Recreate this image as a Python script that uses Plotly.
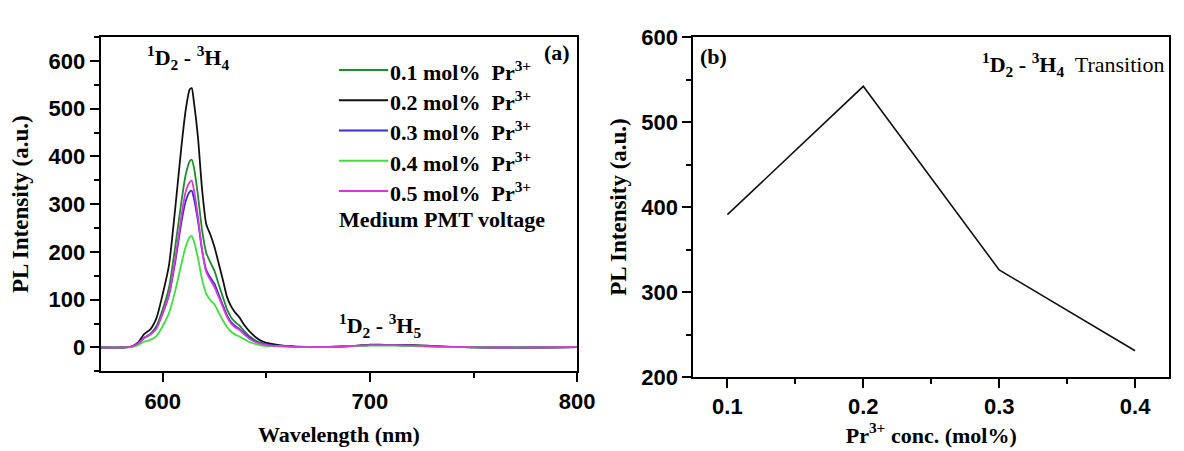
import plotly.graph_objects as go

# ---------------- data ----------------
wavelength = [570, 580, 585, 588, 591, 594, 597, 600, 603, 606, 609, 611, 613, 614, 615, 617, 619, 621,
              623, 625, 627, 629, 631, 633, 635, 637, 639, 642, 645, 648, 652, 658, 665, 675, 685, 695,
              700, 705, 712, 720, 728, 735, 745, 760, 780, 800]

pl_01 = [0, 0, 2, 8, 20, 28, 45, 80, 125, 210, 305, 360, 390, 393, 378, 318, 245, 198,
         178, 160, 132, 106, 80, 63, 53, 46, 36, 23, 14, 9, 5, 3, 1, 1, 2, 4,
         5, 5, 5, 4, 3, 2, 1, 0, 0, 1]
pl_02 = [0, 0, 2, 10, 28, 38, 62, 112, 172, 290, 420, 495, 540, 543, 515, 440, 330, 258,
         236, 210, 176, 142, 106, 86, 73, 63, 49, 33, 21, 13, 8, 4, 2, 1, 2, 4,
         6, 6, 5, 5, 4, 2, 1, 0, 0, 1]
pl_03 = [0, 0, 2, 8, 20, 28, 42, 72, 110, 178, 262, 305, 326, 328, 313, 265, 203, 162,
         146, 133, 111, 89, 67, 53, 45, 39, 31, 20, 12, 8, 5, 3, 1, 1, 2, 4,
         5, 5, 5, 4, 3, 2, 1, 0, 0, 1]
pl_04 = [0, 0, 1, 5, 12, 16, 24, 45, 72, 118, 175, 210, 231, 233, 223, 187, 142, 112,
         99, 90, 73, 57, 43, 33, 27, 23, 18, 11, 7, 4, 3, 2, 1, 1, 2, 3,
         4, 4, 4, 3, 2, 1, 1, 0, 0, 1]
pl_05 = [0, 0, 2, 8, 20, 27, 40, 72, 112, 185, 275, 325, 346, 349, 331, 274, 203, 158,
         141, 126, 106, 85, 64, 50, 42, 37, 29, 18, 11, 7, 4, 3, 1, 1, 2, 4,
         5, 5, 5, 4, 3, 2, 1, 0, 0, 1]

series_labels = ["0.1 mol%&nbsp; Pr<sup>3+</sup>", "0.2 mol%&nbsp; Pr<sup>3+</sup>", "0.3 mol%&nbsp; Pr<sup>3+</sup>",
                 "0.4 mol%&nbsp; Pr<sup>3+</sup>", "0.5 mol%&nbsp; Pr<sup>3+</sup>"]
series_colors = ["#1E8C2A", "#111111", "#3A2FD0", "#3DE03D", "#D83AD8"]

conc = [0.1, 0.2, 0.3, 0.4]
peak_intensity = [391, 542, 326, 231]

# ---------------- figure ----------------
W, H = 1184, 451
fig = go.Figure()

spectra = [pl_01, pl_02, pl_03, pl_04, pl_05]
for vals, lab, col in zip(spectra, series_labels, series_colors):
    fig.add_trace(go.Scatter(x=wavelength, y=vals, mode="lines", name=lab,
                             line=dict(color=col, width=1.8, shape="spline", smoothing=0.6),
                             xaxis="x", yaxis="y", showlegend=False))

fig.add_trace(go.Scatter(x=conc, y=peak_intensity, mode="lines",
                         line=dict(color="#111111", width=1.6),
                         xaxis="x2", yaxis="y2", showlegend=False))

def px_x(p):
    return p / W

def px_y(p):
    return 1 - p / H

tick_font = dict(family="Liberation Sans", size=22, color="black", weight="bold")
title_font = dict(family="Liberation Serif", size=22, color="black", weight="bold")
ytitle_font = dict(family="Liberation Serif", size=23, color="black", weight="bold")

axis_common = dict(showline=True, linewidth=2, linecolor="black", mirror=True,
                   ticks="outside", ticklen=9, tickwidth=2, tickcolor="black",
                   showgrid=False, zeroline=False, tickfont=tick_font)
minor_common = dict(ticks="outside", ticklen=5, tickwidth=2, tickcolor="black")

fig.update_layout(
    width=W, height=H,
    margin=dict(l=0, r=0, t=0, b=0),
    paper_bgcolor="white", plot_bgcolor="white",
    xaxis=dict(domain=[px_x(94), px_x(578)], range=[570, 800], tickvals=[600, 700, 800],
               minor=dict(tickvals=[650, 750], **minor_common),
               title=dict(text="Wavelength (nm)", font=title_font, standoff=14),
               anchor="y", **axis_common),
    yaxis=dict(domain=[px_y(372), px_y(18)], range=[-50, 650], tickvals=[0, 100, 200, 300, 400, 500, 600],
               minor=dict(tickvals=[-50, 50, 150, 250, 350, 450, 550, 650], **minor_common),
               title=dict(text="PL Intensity (a.u.)", font=ytitle_font, standoff=14),
               anchor="x", **axis_common),
    xaxis2=dict(domain=[px_x(696), px_x(1179)], range=[0.075, 0.425], tickvals=[0.1, 0.2, 0.3, 0.4],
                ticktext=["0.1", "0.2", "0.3", "0.4"],
                minor=dict(tickvals=[0.15, 0.25, 0.35], **minor_common),
                title=dict(text="Pr<sup>3+</sup> conc. (mol%)", font=title_font, standoff=8),
                anchor="y2", **axis_common),
    yaxis2=dict(domain=[px_y(378), px_y(18)], range=[200, 600], tickvals=[200, 300, 400, 500, 600],
                minor=dict(tickvals=[250, 350, 450, 550], **minor_common),
                title=dict(text="PL Intensity (a.u.)", font=ytitle_font, standoff=8),
                anchor="x2", **axis_common),
)

serif_bold = dict(family="Liberation Serif", size=22, color="black", weight="bold")
serif = dict(family="Liberation Serif", size=22, color="black")

annotations = []
# legend (manual)
leg_top = 53
leg_gap = 32
shapes = []
for i, (lab, col) in enumerate(zip(series_labels, series_colors)):
    yy = leg_top + i * leg_gap
    shapes.append(dict(type="line", xref="paper", yref="paper",
                       x0=px_x(336), x1=px_x(386), y0=px_y(yy), y1=px_y(yy),
                       line=dict(color=col, width=2)))
    annotations.append(dict(xref="paper", yref="paper", x=px_x(386), y=px_y(yy + 1),
                            text=lab, showarrow=False, xanchor="left", yanchor="middle",
                            font=serif_bold))
annotations.append(dict(xref="paper", yref="paper", x=px_x(334), y=px_y(211),
                        text="Medium PMT voltage", showarrow=False, xanchor="left", yanchor="middle",
                        font=serif_bold))
annotations += [
    dict(xref="paper", yref="paper", x=px_x(573), y=px_y(34), text="(a)", showarrow=False,
         xanchor="right", yanchor="middle", font=serif_bold),
    dict(xref="x", yref="y", x=612, y=608, text="<sup>1</sup>D<sub>2</sub> - <sup>3</sup>H<sub>4</sub>",
         showarrow=False, xanchor="center", yanchor="middle", font=serif_bold),
    dict(xref="x", yref="y", x=705, y=46, text="<sup>1</sup>D<sub>2</sub> - <sup>3</sup>H<sub>5</sub>",
         showarrow=False, xanchor="center", yanchor="middle", font=serif_bold),
    dict(xref="paper", yref="paper", x=px_x(701), y=px_y(39), text="(b)", showarrow=False,
         xanchor="left", yanchor="middle", font=serif_bold),
    dict(xref="paper", yref="paper", x=px_x(1176), y=px_y(47),
         text="<b><sup>1</sup>D<sub>2</sub> - <sup>3</sup>H<sub>4</sub></b>&nbsp; <span style='font-weight:normal'>Transition</span>",
         showarrow=False, xanchor="right", yanchor="middle", font=serif),
]
fig.update_layout(annotations=annotations, shapes=shapes)

fig.write_html("out.html")
